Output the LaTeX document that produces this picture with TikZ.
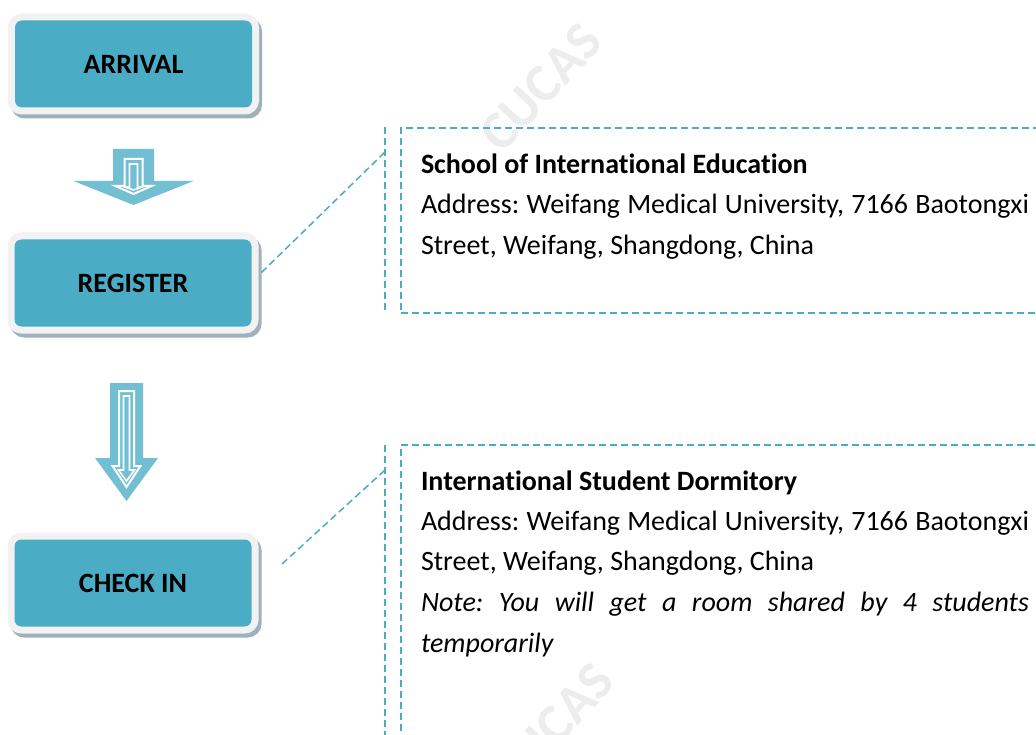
\documentclass[tikz,border=0pt]{standalone}
\usepackage{fontspec}
\setmainfont{Carlito}[Ligatures={NoCommon}, Contextuals={NoAlternate}]
\usetikzlibrary{calc}
\definecolor{boxteal}{HTML}{4BACC6}
\definecolor{arrteal}{HTML}{72BFD4}
\definecolor{framegrey}{HTML}{F2F2F2}
\definecolor{shadowc}{HTML}{9DB2BC}
\definecolor{wmark}{HTML}{EDEDED}
\frenchspacing
\begin{document}
\begin{tikzpicture}[x=1pt,y=-1pt,
  stepbox/.style={rectangle, rounded corners=7pt, fill=boxteal, minimum width=237pt, minimum height=87pt,
    inner sep=0pt, outer sep=0pt, text=black, font=\fontsize{28}{34}\selectfont\bfseries,
    preaction={draw=shadowc, line width=14pt, transform canvas={shift={(3pt,-4pt)}}},
    preaction={draw=framegrey, line width=14pt}},
  callline/.style={draw=boxteal, line width=1.5pt, dash pattern=on 7pt off 4pt},
  calloutbox/.style={callline, rectangle, inner sep=0pt, outer sep=0pt, anchor=north west},
  bodytext/.style={anchor=base west, inner sep=0pt, outer sep=0pt, text=black, font=\fontsize{28}{40}\selectfont},
  wmtext/.style={text=wmark, font=\fontsize{54}{54}\selectfont\bfseries, rotate=47, inner sep=0pt}
]
\useasboundingbox (0,0) rectangle (1036,735);
\clip (0,0) rectangle (1036,735);
\fill[white] (0,0) rectangle (1036,735);

% watermarks
\node[wmtext] (wm1) at (541,87) {CUCAS};
\node[wmtext] (wm2) at (553,727) {CUCAS};

% callout frames
\node[calloutbox, minimum width=700pt, minimum height=185pt] (schoolbox) at (400.75,128) {};
\node[calloutbox, minimum width=700pt, minimum height=400pt] (dormbox) at (400.75,445) {};
\coordinate (bar1top) at (385,127);
\coordinate (bar1bot) at (385,313);
\coordinate (bar1pt) at (385,152);
\coordinate (bar2top) at (385,445);
\coordinate (bar2bot) at (385,745);
\coordinate (bar2pt) at (385,470);
\draw[callline] (bar1top) -- (bar1bot);
\draw[callline] (bar2top) -- (bar2bot);

% step boxes
\node[stepbox] (arrival) at (133.5,64) {ARRIVAL};
\node[stepbox] (register) at (133,283) {REGISTER};
\node[stepbox] (checkin) at (133,583) {CHECK IN};

% connectors to callouts
\draw[callline] ([shift={(10pt,10.5pt)}]register.east) -- (bar1pt);
\draw[callline] ([shift={(30.5pt,19pt)}]checkin.east) -- (bar2pt);

% block arrows
\fill[arrteal] (113,149) -- (154,149) -- (154,181) -- (193.5,181) -- (133.5,205) -- (73.5,181) -- (113,181) -- cycle;
\draw[white, line width=2pt, line join=miter] (124.5,159) -- (142.5,159) -- (142.5,186) -- (151.5,186) -- (133.5,194) -- (115.5,186) -- (124.5,186) -- cycle;
\draw[white, line width=1.6pt, line join=miter] (129.5,164) -- (137.5,164) -- (137.5,187) -- (142,187) -- (133.5,190) -- (125,187) -- (129.5,187) -- cycle;

\fill[arrteal] (110,383) -- (143,383) -- (143,458) -- (158,458) -- (126.5,501) -- (95,458) -- (110,458) -- cycle;
\draw[white, line width=2pt, line join=miter] (119,391) -- (134,391) -- (134,466) -- (140.5,466) -- (126.5,487) -- (112.5,466) -- (119,466) -- cycle;
\draw[white, line width=1.6pt, line join=miter] (123.5,396) -- (129.5,396) -- (129.5,470) -- (134.5,470) -- (126.5,481) -- (118.5,470) -- (123.5,470) -- cycle;

% texts
\node[bodytext] (s1) at (421,174) {\bfseries School of International Education};
\node[bodytext] (s2) at (421,214) {\makebox[608pt][s]{Address: Weifang Medical University, 7166 Baotongxi}};
\node[bodytext] (s3) at (421,255) {Street, Weifang, Shangdong, China};

\node[bodytext] (d1) at (421,490) {\bfseries International Student Dormitory};
\node[bodytext] (d2) at (421,530) {\makebox[608pt][s]{Address: Weifang Medical University, 7166 Baotongxi}};
\node[bodytext] (d3) at (421,570.5) {Street, Weifang, Shangdong, China};
\node[bodytext] (d4) at (421,611.5) {\itshape\makebox[608pt][s]{Note: You will get a room shared by 4 students}};
\node[bodytext] (d5) at (421,652) {\itshape temporarily};
\end{tikzpicture}
\end{document}
